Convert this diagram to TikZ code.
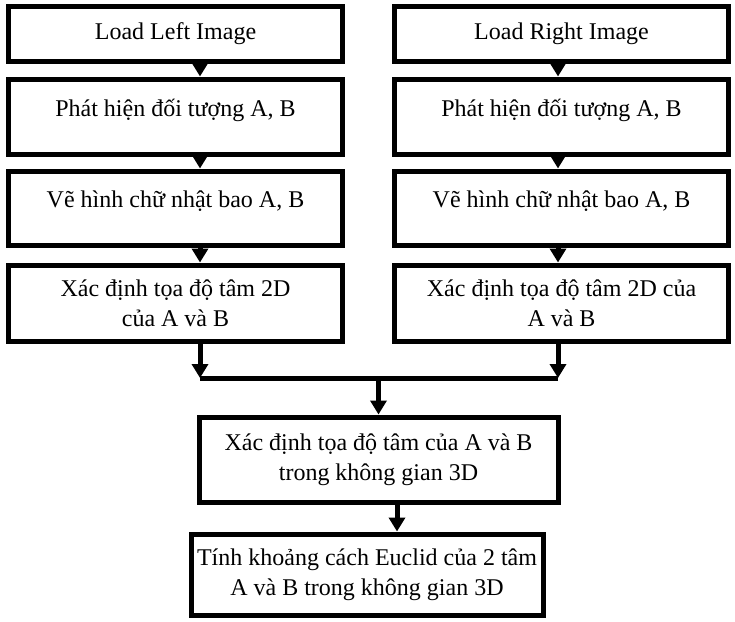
\documentclass[tikz,border=0pt]{standalone}
\usepackage{fontspec}
\setmainfont{Liberation Serif}
\usetikzlibrary{arrows.meta}
\begin{document}
\begin{tikzpicture}[x=1pt,y=-1pt,
    box/.style={draw,line width=5pt,align=center,inner xsep=1pt,
      font=\fontsize{24}{30}\selectfont},
    colbox/.style={box,minimum width=334pt},
    up/.style={text depth=17pt},
    arr/.style={line width=5pt,-{Triangle[width=16pt,length=14pt]}},
    bar/.style={line width=5pt}]
    \path[use as bounding box] (0,0) rectangle (735,621);
    % Left column
    \node[colbox,minimum height=55pt] (l1) at (175.5,33.5) {Load Left Image};
    \node[colbox,up,minimum height=75pt] (l2) at (175.5,116.5) {Phát hiện đối tượng A, B};
    \node[colbox,up,minimum height=74pt] (l3) at (175.5,208) {Vẽ hình chữ nhật bao A, B};
    \node[colbox,minimum height=76pt] (l4) at (175.5,303)
        {Xác định tọa độ tâm 2D\\của A và B};

    % Right column
    \node[colbox,minimum height=55pt] (r1) at (561.5,33.5) {Load Right Image};
    \node[colbox,up,minimum height=75pt] (r2) at (561.5,116.5) {Phát hiện đối tượng A, B};
    \node[colbox,up,minimum height=74pt] (r3) at (561.5,208) {Vẽ hình chữ nhật bao A, B};
    \node[colbox,minimum height=76pt] (r4) at (561.5,303)
        {Xác định tọa độ tâm 2D của\\A và B};

    % Merge
    \node[box,minimum width=359pt,minimum height=85pt] (m1) at (378.5,459.5)
        {Xác định tọa độ tâm của A và B\\trong không gian 3D};
    \node[box,minimum width=352pt,minimum height=81pt] (m2) at (367,574.5)
        {Tính khoảng cách Euclid của 2 tâm\\A và B trong không gian 3D};

    % Arrows
    \foreach \a/\b in {l1/l2,l2/l3,l3/l4}
        \draw[arr] ([xshift=24.5pt]\a.south) -- ([xshift=24.5pt]\b.north);
    \foreach \a/\b in {r1/r2,r2/r3,r3/r4}
        \draw[arr] ([xshift=-3.5pt]\a.south) -- ([xshift=-3.5pt]\b.north);

    \coordinate (jl) at (200,378);
    \coordinate (jr) at (558,378);
    \coordinate (jc) at (378.5,378);
    \draw[arr] ([xshift=24.5pt]l4.south) -- (jl);
    \draw[arr] ([xshift=-3.5pt]r4.south) -- (jr);
    \draw[bar] (jl) -- (jr);
    \draw[arr] (jc) -- (m1.north);
    \draw[arr] ([xshift=18.5pt]m1.south) -- ([xshift=18.5pt]m1.south |- m2.north);
\end{tikzpicture}
\end{document}
